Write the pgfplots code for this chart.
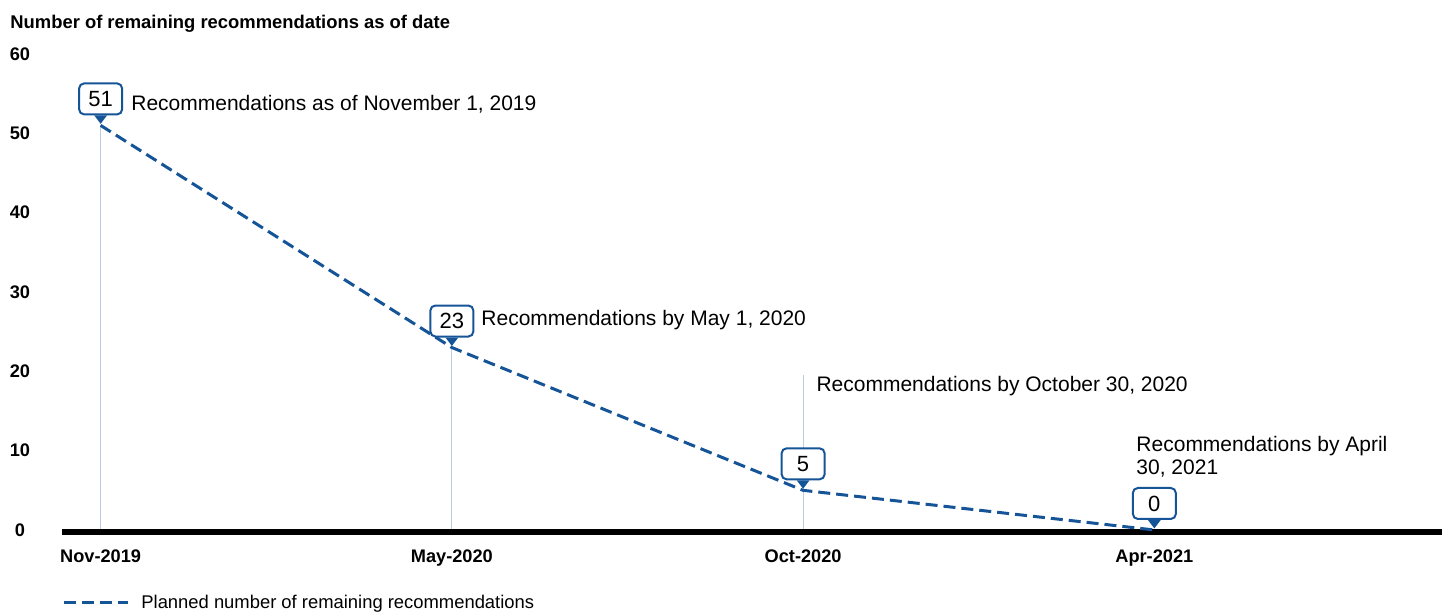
\documentclass[border=0pt]{standalone}
\usepackage{fontspec}
\setmainfont{Liberation Sans}
\usepackage{pgfplots}
\pgfplotsset{compat=1.18}
\definecolor{cBlue}{RGB}{22,84,152}
\definecolor{cDrop}{RGB}{190,206,226}
\pgfdeclareplotmark{pointer}{%
 \pgfpathmoveto{\pgfqpoint{-3.2pt}{5pt}}%
 \pgfpathlineto{\pgfqpoint{3.2pt}{5pt}}%
 \pgfpathlineto{\pgfqpoint{0pt}{0.8pt}}%
 \pgfpathclose\pgfusepathqfill}
\begin{document}
\begin{tikzpicture}
\begin{axis}[name=ax, scale only axis, width=690pt, height=238pt,
 xmin=-0.110, xmax=3.819, ymin=0, ymax=60,
 xtick={0,1,2,3}, xticklabels={Nov-2019,May-2020,Oct-2020,Apr-2021},
 ytick={0,10,...,60},
 major tick length=0pt,
 axis line style={draw=none},
 clip=false,
 /pgf/number format/assume math mode=true,
 tick label style={font=\fontsize{9.1}{11}\selectfont\bfseries},
 yticklabel style={anchor=center, xshift=-21pt},
 xticklabel style={yshift=-6.5pt},
 legend style={at={(axis description cs:0,0)}, anchor=west, yshift=-36.5pt,
   draw=none, fill=none, inner sep=0pt, font=\fontsize{9.2}{11}\selectfont,
   legend cell align=left},
 legend image code/.code={\draw[#1] (0pt,0pt) -- (32pt,0pt); \path (36pt,0pt);},
]
\addplot[ycomb, cDrop, line width=0.6pt, mark=none, forget plot] coordinates {(0,51) (1,23) (2,19.5)};
\draw[line width=3pt, black] ([yshift=-1pt]axis cs:-0.110,0) -- ([yshift=-1pt]axis cs:3.819,0);
\addplot[cBlue, line width=1.5pt, dash pattern=on 6pt off 3pt, mark=none] coordinates {(0,51) (1,23) (2,5) (3,0)};
\addlegendentry{Planned number of remaining recommendations}
\addplot[only marks, mark=pointer, cBlue, forget plot,
  nodes near coords,
  nodes near coords style={anchor=south, yshift=5pt, solid, draw=cBlue, fill=white, text=black,
    rounded corners=2.5pt, line width=1pt, minimum width=21.5pt, minimum height=15.5pt,
    inner sep=1pt, font=\fontsize{11}{12}\selectfont}]
  coordinates {(0,51) (1,23) (2,5) (3,0)};
\node[anchor=west, inner sep=0pt, font=\fontsize{10.5}{12.6}\selectfont] at (axis cs:0.0863,53.7) {Recommendations as of November 1, 2019};
\node[anchor=west, inner sep=0pt, font=\fontsize{10.5}{12.6}\selectfont] at (axis cs:1.083,26.5) {Recommendations by May 1, 2020};
\node[anchor=west, inner sep=0pt, font=\fontsize{10.5}{12.6}\selectfont] at (axis cs:2.037,18.15) {Recommendations by October 30, 2020};
\node[anchor=west, inner sep=0pt, align=left, font=\fontsize{10.5}{11.5}\selectfont] at (axis cs:2.948,9.27) {Recommendations by April\\30, 2021};
\end{axis}
\node[anchor=west, inner sep=0pt, font=\fontsize{9.2}{11}\selectfont\bfseries] at ([xshift=-26pt, yshift=15pt]ax.north west) {Number of remaining recommendations as of date};
\pgfresetboundingbox
\path[use as bounding box] ([xshift=-31pt,yshift=-41pt]ax.south west) rectangle ([yshift=27pt]ax.north east);
\end{tikzpicture}
\end{document}
